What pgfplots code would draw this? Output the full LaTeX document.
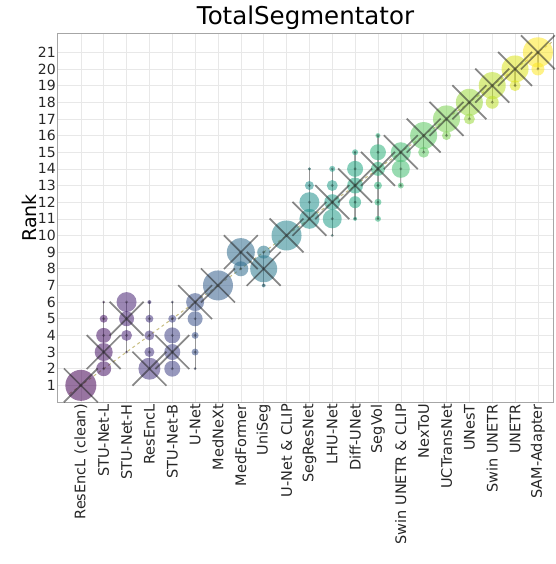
\documentclass[border=0pt]{standalone}
\usepackage{pgfplots}
\usepackage{pgfplotstable}
\pgfplotsset{compat=1.18}
\usepackage{fontspec}
\setmainfont{DejaVu Sans}
\pgfplotstableread{
x y r
0 1 15.5
1 2 7.5
1 3 9
1 4 7.5
1 5 4
1 6 1
2 3 1
2 4 5.5
2 5 7.5
2 6 10
3 2 11
3 3 5
3 4 5
3 5 4
3 6 2
4 2 8
4 3 8
4 4 8
4 5 4
4 6 1
5 2 1
5 3 3.5
5 4 3.5
5 5 7.5
5 6 9
6 7 15
7 8 7.5
7 9 14
8 7 2
8 8 13.5
8 9 6.5
9 10 15
10 11 10
10 12 10
10 13 4.5
10 14 1.5
11 10 1
11 11 9.5
11 12 8
11 13 5.5
11 14 3
12 11 2
12 12 6
12 13 8
12 14 8
12 15 3
13 11 3
13 12 3.5
13 13 4
13 14 7
13 15 8
13 16 2.5
14 13 3
14 14 9
14 15 10
15 15 5.5
15 16 13.5
16 16 4.5
16 17 13.5
17 17 5.5
17 18 13.5
18 18 6.5
18 19 13.5
19 19 5.5
19 20 13.5
20 20 6.5
20 21 15
}\bubbles
\pgfplotstableread{
x y
0 1
1 3
2 5
3 2
4 3
5 6
6 7
7 9
8 8
9 10
10 11
11 12
12 13
13 14
14 15
15 16
16 17
17 18
18 19
19 20
20 21
}\medians
\begin{document}
\begin{tikzpicture}
\begin{axis}[
  scale only axis, width=495pt, height=368pt,
  xmin=-1, xmax=20.66, ymin=0, ymax=22.1,
  axis line style={draw=gray!70, line width=1pt},
  grid=major, grid style={draw=gray!18, line width=0.6pt},
  major tick length=0pt,
  xtick={0,...,20}, ytick={1,...,21},
  xticklabels={ResEncL (clean),STU-Net-L,STU-Net-H,ResEncL,STU-Net-B,U-Net,MedNeXt,MedFormer,UniSeg,U-Net \& CLIP,SegResNet,LHU-Net,Diff-UNet,SegVol,Swin UNETR \& CLIP,NexToU,UCTransNet,UNesT,Swin UNETR,UNETR,SAM-Adapter},
  x tick label style={rotate=90, anchor=east, font=\fontsize{14.5}{15}\selectfont, color=black!85, inner sep=2pt},
  y tick label style={font=\fontsize{14}{15}\selectfont, color=black!85, inner sep=2pt},
  /pgf/number format/assume math mode=true,
  ylabel={Rank}, ylabel style={font=\fontsize{19}{22}\selectfont, yshift=-4pt},
  title={TotalSegmentator}, title style={font=\fontsize{24.5}{28}\selectfont, yshift=-5pt},
  colormap/viridis, point meta min=0, point meta max=20,
  clip=true,
]
\addplot[dashed, draw={rgb,255:red,200;green,190;blue,130}, line width=1pt, forget plot] coordinates {(-0.5,0.5) (20.6,21.6)};
\addplot[scatter, only marks, mark=*, draw=none, point meta=\thisrow{x},
  mark options={draw opacity=0},
  visualization depends on={\thisrow{r}\as\rad},
  scatter/use mapped color={draw=mapped color, draw opacity=0, fill=mapped color, fill opacity=0.55},
  scatter/@pre marker code/.append style={/tikz/mark size=\rad pt}]
  table[x=x,y=y] {\bubbles};
\addplot[draw=black, draw opacity=0.35, line width=1.2pt, unbounded coords=jump] coordinates {
(1,2) (1,6) (1,nan)
(2,3) (2,6) (2,nan)
(3,2) (3,6) (3,nan)
(4,2) (4,6) (4,nan)
(5,2) (5,6) (5,nan)
(7,8) (7,9) (7,nan)
(8,7) (8,9) (8,nan)
(10,11) (10,14) (10,nan)
(11,10) (11,14) (11,nan)
(12,11) (12,15) (12,nan)
(13,11) (13,16) (13,nan)
(14,13) (14,15) (14,nan)
(15,15) (15,16) (15,nan)
(16,16) (16,17) (16,nan)
(17,17) (17,18) (17,nan)
(18,18) (18,19) (18,nan)
(19,19) (19,20) (19,nan)
(20,20) (20,21)
};
\addplot[only marks, mark=*, mark size=1.6pt, draw=none, fill=black, fill opacity=0.3, mark options={draw opacity=0}] table[x=x,y=y] {\bubbles};
\addplot[only marks, mark=x, mark size=24pt, draw=black!85, draw opacity=0.55, line width=1.7pt] table[x=x,y=y] {\medians};
\end{axis}
\pgfresetboundingbox
\path[use as bounding box] (-58pt,-162pt) rectangle (497pt,402pt);
\end{tikzpicture}
\end{document}
